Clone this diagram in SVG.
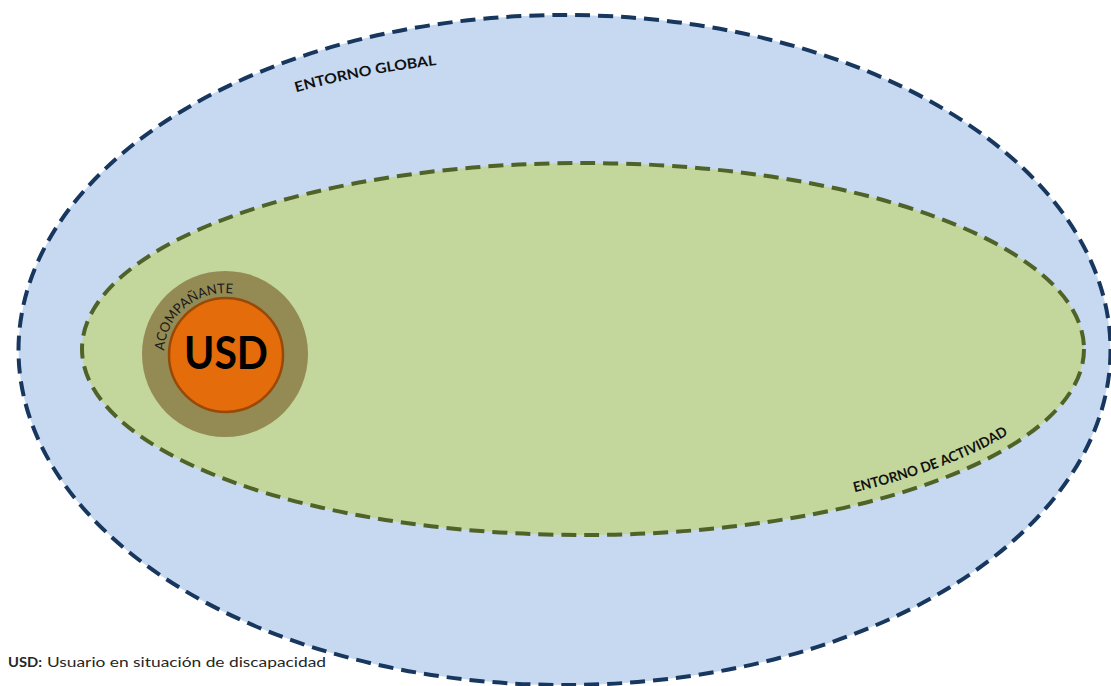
<svg xmlns="http://www.w3.org/2000/svg" xmlns:xlink="http://www.w3.org/1999/xlink" width="1111" height="686" viewBox="0 0 1111 686">
  <style>
    .zone-label { font-family: Lato, "Open Sans", "Liberation Sans", sans-serif; font-weight: bold; font-size: 14px; fill: #111; }
    .ring-label { font-family: Lato, "Open Sans", "Liberation Sans", sans-serif; font-size: 13.5px; fill: #1a1a1a; }
    .core-label { font-family: Lato, "Open Sans", "Liberation Sans", sans-serif; font-weight: bold; font-size: 45px; fill: #000; }
    .legend { font-family: Lato, "Open Sans", "Liberation Sans", sans-serif; font-size: 13.5px; fill: #262626; }
    .dashed { stroke-width: 4; stroke-dasharray: 15 8; }
  </style>
  <defs>
    <!-- baselines for curved labels -->
    <path id="globalArc" d="M 280,96.9 A 567 292.4 0 0 1 470,61.6"/>
    <path id="activityArc" d="M 842.7,494.9 A 490 172 0 0 0 1043.4,407.8"/>
    <path id="ringArc" d="M 164.9,364.6 A 61 61 0 1 1 286,354"/>
  </defs>

  <rect width="1111" height="686" fill="#ffffff"/>

  <!-- global environment -->
  <g id="entorno-global">
    <ellipse cx="564.5" cy="350" rx="546" ry="335" fill="#C6D9F1" stroke="#17375E" class="dashed"/>
    <text class="zone-label"><textPath xlink:href="#globalArc" startOffset="17" textLength="143" lengthAdjust="spacingAndGlyphs">ENTORNO GLOBAL</textPath></text>
  </g>

  <!-- activity environment -->
  <g id="entorno-actividad">
    <ellipse cx="583" cy="349" rx="501" ry="186" fill="#C3D69B" stroke="#4F6228" class="dashed"/>
    <text class="zone-label"><textPath xlink:href="#activityArc" startOffset="12" textLength="165" lengthAdjust="spacingAndGlyphs">ENTORNO DE ACTIVIDAD</textPath></text>
  </g>

  <!-- companion ring -->
  <g id="acompanante">
    <circle cx="225" cy="354" r="83" fill="#948A54"/>
    <text class="ring-label"><textPath xlink:href="#ringArc" startOffset="14" textLength="100" lengthAdjust="spacingAndGlyphs">ACOMPAÑANTE</textPath></text>
  </g>

  <!-- user -->
  <g id="usd">
    <circle cx="226" cy="355" r="57" fill="#E46C0A" stroke="#984807" stroke-width="2.5"/>
    <text class="core-label" x="226" y="369" text-anchor="middle" textLength="84" lengthAdjust="spacingAndGlyphs">USD</text>
  </g>

  <!-- legend -->
  <g id="leyenda">
    <text class="legend" x="8" y="667" font-weight="bold" fill="#000" textLength="34" lengthAdjust="spacingAndGlyphs">USD:</text>
    <text class="legend" x="47" y="667" textLength="279" lengthAdjust="spacingAndGlyphs">Usuario en situación de discapacidad</text>
  </g>
</svg>
